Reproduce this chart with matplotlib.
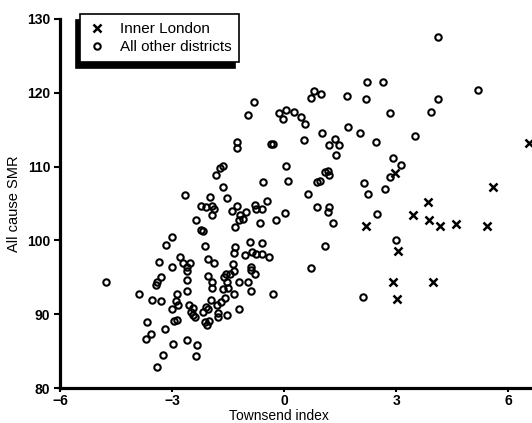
import matplotlib
matplotlib.use("Agg")
import matplotlib.pyplot as plt

plt.rcParams['font.family'] = ['Liberation Sans', 'DejaVu Sans']

# Inner London districts
london_x = [6.55, 5.59, 3.84, 3.45, 3.87, 4.18, 4.61, 5.43, 2.20, 3.04, 2.90, 3.97, 3.02, 2.97]
london_y = [113.2, 107.3, 105.2, 103.4, 102.7, 102.0, 102.2, 101.95, 102.0, 98.55, 94.3, 94.4, 92.0, 109.1]

# All other districts
other_x = [
    4.13, 2.21, 2.65, 5.20, 4.12, 0.79, 0.99, 0.73, 1.67, 2.20,
    2.82, 3.92, -0.14, 0.05, 0.26, -0.03, 0.46, 0.56, 1.71, 1.01,
    2.03, 3.51, -0.35, -0.29, 0.54, 1.36, 1.21, 1.47, 2.47, 1.39,
    2.90, 3.14, 0.06, 2.83, 1.08, 1.17, 1.20, 0.89, 0.95, 0.10,
    -0.58, 2.14, 2.70, 2.25, 0.63, -0.45, -0.60, 0.02, 0.89, 1.21,
    1.17, 2.48, -0.21, 1.30, -0.66, -0.60, -0.60, -0.40, 1.08, 3.00,
    0.73, -0.30, 2.11,
    -0.80, -0.97, -1.26, -1.26, -1.63, -1.71, -1.82, -1.64, -2.65, -1.98,
    -1.54, -2.22, -2.09, -1.94, -1.89, -1.93, -2.36, -2.22, -2.18, -3.01,
    -3.16, -2.13, -1.40, -1.27, -1.18, -1.02, -1.20, -1.09, -1.31, -1.31,
    -0.91, -0.78, -0.75,
    -1.33, -1.06, -0.85, -0.76, -2.52, -2.60, -2.04, -1.87, -1.37, -1.33,
    -1.46, -1.55, -1.60, -0.90, -0.88, -0.78, -2.61, -2.61, -2.04, -1.92,
    -1.94, -1.54, -1.65, -1.51, -1.22, -0.96, -0.89, -1.33, -2.61, -1.58,
    -1.70, -1.80, -1.96, -2.56, -2.43, -2.49, -2.43, -2.38, -2.10, -2.03,
    -2.16, -1.78, -1.76, -1.53, -1.20, -2.12, -2.07, -2.00, -2.61, -2.34,
    -2.37,
    -2.80, -2.70, -3.34, -3.00, -3.29, -3.41, -3.44, -4.78, -3.88, -3.54,
    -3.30, -2.86, -2.89, -2.83, -3.00, -2.96, -2.87, -3.66, -3.19, -3.56,
    -3.70, -2.97, -3.23, -3.41,
]
other_y = [
    127.5, 121.4, 121.5, 120.4, 119.2, 120.2, 119.9, 119.3, 119.5, 119.1,
    117.3, 117.4, 117.2, 117.7, 117.4, 116.4, 116.7, 115.8, 115.3, 114.6,
    114.6, 114.1, 113.1, 113.1, 113.6, 113.7, 112.9, 112.9, 113.3, 111.6,
    111.1, 110.2, 110.1, 108.6, 109.3, 109.4, 108.8, 107.9, 108.0, 108.0,
    107.9, 107.8, 106.9, 106.3, 106.3, 105.3, 104.2, 103.7, 104.5, 104.5,
    103.8, 103.6, 102.8, 102.3, 102.4, 99.6, 98.2, 97.8, 99.2, 100.0,
    96.3, 92.8, 92.3,
    118.7, 117.0, 113.3, 112.5, 110.1, 109.8, 108.8, 107.2, 106.1, 105.9,
    105.8, 104.7, 104.5, 104.7, 104.2, 103.4, 102.8, 101.4, 101.3, 100.5,
    99.4, 99.3, 104.0, 104.6, 103.4, 103.8, 102.8, 102.9, 101.8, 99.1,
    99.8, 104.8, 104.2,
    98.3, 98.0, 98.4, 98.2, 97.0, 96.4, 97.5, 97.0, 96.8, 95.9,
    95.5, 95.4, 95.0, 96.4, 96.0, 95.4, 95.8, 94.6, 95.2, 94.3,
    93.5, 94.4, 93.4, 93.5, 94.4, 94.4, 93.2, 92.7, 93.1, 92.2,
    91.7, 91.2, 91.9, 91.2, 90.8, 90.3, 89.9, 89.6, 91.0, 90.7,
    90.3, 90.2, 89.6, 89.9, 90.7, 89.0, 88.5, 89.1, 86.5, 85.8,
    84.3,
    97.8, 97.0, 97.1, 96.4, 95.1, 94.4, 94.0, 94.4, 92.8, 91.9,
    91.8, 92.7, 91.8, 91.2, 90.7, 89.1, 89.2, 88.9, 88.0, 87.3,
    86.6, 86.0, 84.5, 82.8,
]

x_ticks = [-6, -3, 0, 3, 6]
x_ticklabels = ['\u22126', '\u22123', '0', '3', '6']
y_ticks = [80, 90, 100, 110, 120, 130]

fig = plt.figure(figsize=(5.32, 4.23), dpi=100)
ax = fig.add_axes([60/532, 35/423, 472/532, 369/423])

ax.plot(london_x, london_y, linestyle='none', marker='x', ms=5.5, mew=1.8,
        color='black', label='Inner London', clip_on=False)
ax.plot(other_x, other_y, linestyle='none', marker='o', ms=4.6, mew=1.5,
        mfc='none', mec='black', label='All other districts', clip_on=False)

ax.set_xlim(-6, 6.633)
ax.set_ylim(80, 130)
ax.spines['top'].set_visible(False)
ax.spines['right'].set_visible(False)
for s in ('left', 'bottom'):
    ax.spines[s].set_linewidth(2.3)
    ax.spines[s].set_color('black')

ax.set_xticks(x_ticks)
ax.set_xticklabels(x_ticklabels)
ax.set_yticks(y_ticks)
ax.tick_params(axis='y', direction='out', length=4, width=1.5, pad=3,
               labelsize=10)
ax.tick_params(axis='x', direction='out', length=3, width=1.5, pad=1,
               labelsize=10)
for lab in ax.get_xticklabels() + ax.get_yticklabels():
    lab.set_fontweight('bold')

ax.set_xlabel('Townsend index', fontsize=10)
ax.set_ylabel('All cause SMR', fontsize=10.5)
ax.xaxis.set_label_coords(0.464, -0.058)
ax.yaxis.set_label_coords(-0.083, 0.5)

leg = ax.legend(loc='upper left', bbox_to_anchor=(0.042, 1.013), borderaxespad=0,
                frameon=True, fancybox=False, fontsize=11, handlelength=1.16,
                handletextpad=0.92, labelspacing=0.25, borderpad=0.53,
                shadow={'ox': -3, 'oy': -4, 'color': 'black', 'alpha': 1})
leg.get_frame().set_edgecolor('black')
leg.get_frame().set_linewidth(1.2)
leg.get_frame().set_facecolor('white')

fig.savefig('out.png', dpi=100)
